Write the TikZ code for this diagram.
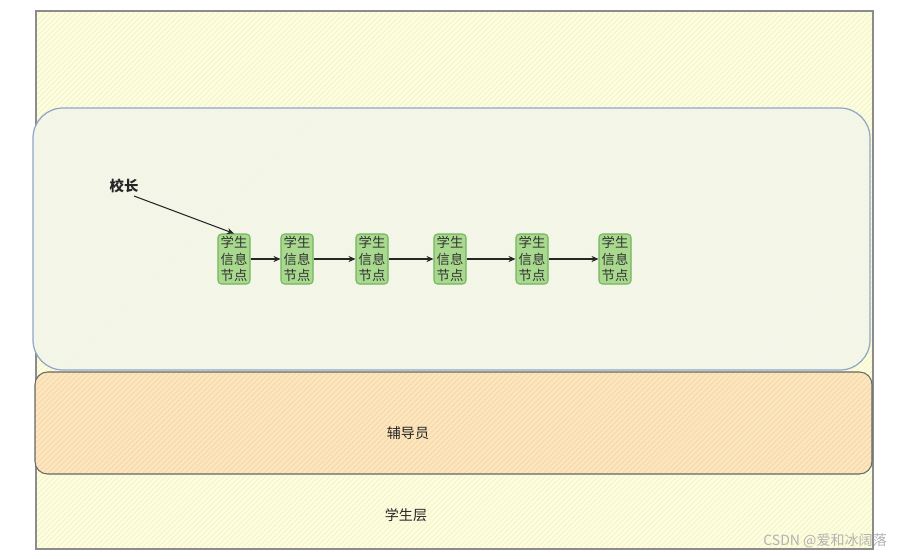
\documentclass[tikz,border=0pt]{standalone}
\usepackage{fontspec}
\setmainfont{Noto Sans CJK SC}
\usetikzlibrary{patterns,arrows.meta}
\definecolor{paperyellow}{HTML}{FDFDE4}
\definecolor{hatchyellow}{HTML}{F4F4B8}
\definecolor{leaderfill}{HTML}{F1F5EC}
\definecolor{leaderline}{HTML}{8FA6C8}
\definecolor{tutorfill}{HTML}{FCE6C2}
\definecolor{hatchorange}{HTML}{F6D79A}
\definecolor{nodefill}{HTML}{A9D98E}
\definecolor{nodeline}{HTML}{72B55E}
\tikzset{
  studentnode/.style={draw=nodeline, fill=nodefill, rounded corners=2pt, line width=0.6pt,
    minimum width=0.64cm, minimum height=1.0cm, inner sep=0pt, align=center,
    font=\fontsize{7.6}{9.4}\selectfont, text=black!80},
  linkarrow/.style={-{Stealth[length=4pt,width=3.5pt]}, line width=0.6pt, black!85},
}
\begin{document}
\begin{tikzpicture}[x=0.02cm, y=-0.02cm]
            \useasboundingbox (0,0) rectangle (898,558);%
            
            % Student layer (outer frame)
            \fill [paperyellow] (36,11) rectangle (873,549);%
            \fill [pattern=north east lines, pattern color=hatchyellow] (36,11) rectangle (873,549);%
            \draw [line width=0.6pt, black!45] (36,11) rectangle (873,549);%
            
            % Principal layer
            \fill [leaderfill, rounded corners=0.6cm] (33,108) rectangle (870,370);%
            \fill [pattern=north east lines, pattern color=hatchyellow!55!white, rounded corners=0.6cm] (33,108) rectangle (870,370);%
            \draw [line width=0.7pt, leaderline, rounded corners=0.6cm] (33,108) rectangle (870,370);%
            
            % Tutor layer
            \fill [tutorfill, rounded corners=0.25cm] (35,372) rectangle (872,474);%
            \fill [pattern=north east lines, pattern color=hatchorange, rounded corners=0.25cm] (35,372) rectangle (872,474);%
            \draw [line width=0.6pt, black!60, rounded corners=0.25cm] (35,372) rectangle (872,474);%
            
            % Layer labels
            \node [font=\fontsize{8}{9}\selectfont, text=black!85] (tutor) at (408,433) {辅导员};%
            \node [font=\fontsize{8}{9}\selectfont, text=black!85] (students) at (406,515) {学生层};%
            \node [font=\bfseries\fontsize{8.2}{9}\selectfont, text=black!85] (principal) at (124,186) {校长};%
            
            % Student nodes
            \node [studentnode] (s1) at (234,259) {学生\\信息\\节点};%
            \node [studentnode] (s2) at (297,259) {学生\\信息\\节点};%
            \node [studentnode] (s3) at (372,259) {学生\\信息\\节点};%
            \node [studentnode] (s4) at (450,259) {学生\\信息\\节点};%
            \node [studentnode] (s5) at (532,259) {学生\\信息\\节点};%
            \node [studentnode] (s6) at (615,259) {学生\\信息\\节点};%
            
            % Links
            \coordinate (tail) at (134,196);%
            \draw [linkarrow] (tail) -- (s1.north);%
            \draw [linkarrow] (s1) -- (s2);%
            \draw [linkarrow] (s2) -- (s3);%
            \draw [linkarrow] (s3) -- (s4);%
            \draw [linkarrow] (s4) -- (s5);%
            \draw [linkarrow] (s5) -- (s6);%
            
            % Watermark
            \node [anchor=east, font=\fontsize{8}{9}\selectfont, text=black!30] (mark) at (893,541) {CSDN @爱和冰阔落};%
\end{tikzpicture}
\end{document}
